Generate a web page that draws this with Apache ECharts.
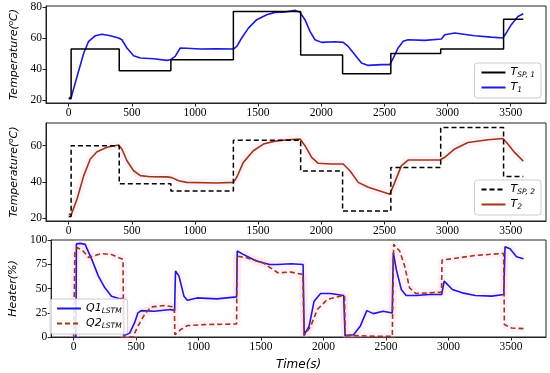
<!DOCTYPE html>
<html>
<head>
<meta charset="utf-8">
<script src="https://cdn.jsdelivr.net/npm/echarts@6/dist/echarts.min.js"></script>
<style>html,body{margin:0;padding:0;background:#fff}#c{width:550px;height:373px}</style>
</head>
<body>
<div id="c"></div>
<script>
// ---- data ----
const xTicks = [0, 500, 1000, 1500, 2000, 2500, 3000, 3500];
const tempTicks1 = [20, 40, 60, 80];
const tempTicks2 = [20, 40, 60];
const heaterTicks = [0, 25, 50, 75, 100];

const spTime = [0, 19, 400, 809, 1304, 1837, 2169, 2551, 2946, 3444, 3600];
const tsp1 = [21, 53, 39, 46, 77, 49, 37, 50, 53, 72, 72];
const tsp2 = [21, 60, 39, 35, 63, 46, 24, 48, 70, 43, 43];

const t1Time = [0,20,26,66,119,158,211,263,329,395,421,461,514,567,672,777,804,843,883,935,1041,1173,1304,1331,1370,1423,1489,1568,1634,1713,1792,1832,1871,1911,1950,2003,2108,2174,2214,2266,2319,2372,2477,2543,2570,2609,2649,2688,2820,2952,2978,3057,3215,3347,3439,3465,3505,3558,3600];
const t1 = [21.5,21.8,22.5,35.3,50.4,57.9,61.5,62.4,61.5,60,58.9,53.6,48.6,47.1,46.7,45.6,46,48.2,53.6,53.4,52.9,53.0,52.9,54.6,60,66.4,71.8,75,76.5,76.7,77.8,76.5,71.8,64.3,58.9,57.2,57.6,57.2,54.6,49.3,43.9,42.4,42.9,42.9,47.1,53.6,57.9,58.9,58.5,59.4,62.1,63.2,61.5,60.6,60,63.2,68.6,73.9,75.6];

const t2Time = [0,20,26,66,119,171,224,303,395,421,461,514,567,646,777,817,870,935,1173,1304,1331,1383,1462,1542,1634,1739,1832,1871,1924,1976,2082,2174,2227,2293,2372,2477,2543,2582,2635,2688,2820,2939,2978,3057,3162,3320,3439,3478,3531,3600];
const t2 = [22.4,22,21.8,30.6,43.5,52.7,56.7,59.1,60.4,58.2,51.7,46.2,43.5,42.9,42.8,42.4,40.7,39.8,39.4,39.8,42.6,50.8,57.2,60.9,62.5,63.3,63.7,60,53.6,50.3,49.9,49.9,46.2,39.8,37.1,34.7,33.2,39.8,49,52.1,52.1,52.1,53.6,58.2,61.8,63.3,64,60.9,56.3,51.5];

const q1Time = [0,18,22,53,92,145,198,250,303,369,398,402,448,487,514,540,646,777,808,815,843,883,909,988,1146,1304,1309,1357,1462,1568,1634,1739,1836,1845,1884,1924,1976,2055,2161,2172,2240,2293,2346,2398,2477,2549,2558,2582,2622,2661,2740,2846,2945,2965,3031,3110,3215,3347,3442,3452,3492,3544,3600];
const q1 = [0,0,96,96.5,95.5,80,62.8,50.7,42,39.5,40,1.4,4,14.5,24.8,27.2,26.6,28.3,27.2,68,62.8,42,37.9,40.3,39.3,41.4,88.6,85.2,78.3,74.8,74.8,75.5,74.8,2.4,11,36.9,44.8,44.8,42.8,1.4,2.4,11,27.2,24.1,26.6,24.8,86.9,69.7,49,42.8,42.8,43.8,43.8,57.6,49,45.5,42.8,42.1,43.8,93.1,91,82.8,80.7];

const q2Time = [0,6,10,30,66,119,224,303,395,400,474,514,567,619,725,806,810,856,909,1041,1304,1308,1383,1515,1634,1739,1835,1843,1897,1950,2029,2134,2168,2173,2266,2424,2550,2561,2609,2649,2688,2740,2846,2944,2948,3031,3215,3441,3447,3505,3600];
const q2 = [0,0,88,92,90,82,86,85,80,0,0,11,23.1,31,32.4,31,2.4,7.6,11.7,12.8,13.4,83.4,81.7,76.6,66.2,66.9,64.5,1.4,11,28.3,38.6,42.1,42.1,1.4,1.4,0.7,0.7,95.5,88.6,73.1,50.7,44.8,45.5,46.2,79.3,80.7,84.1,86.2,12.8,9.3,8.6];

// ---- helpers ----
const zip = (a, b) => a.map((x, i) => [x, b[i]]);
const SERIF = 'Liberation Serif';
const SANS = 'DejaVu Sans';
const BLUE = '#1a1ad8';
const BROWN = '#9a3a12';
const PINK = 'rgba(255,175,230,0.16)';

function xAxis(gi, named) {
  const ax = {
    type: 'value', gridIndex: gi, min: -180, max: 3780,
    splitLine: { show: false },
    axisLine: { show: true, onZero: false, lineStyle: { color: '#222', width: 1 } },
    axisTick: { show: true, length: 3.5, customValues: xTicks, lineStyle: { color: '#222' } },
    axisLabel: { customValues: xTicks, formatter: v => String(v), fontFamily: SERIF, fontSize: 11.5, color: '#000', margin: 4 }
  };
  if (named) {
    ax.name = 'Time(s)';
    ax.nameLocation = 'middle';
    ax.nameGap = 22;
    ax.nameTextStyle = { fontFamily: SANS, fontStyle: 'italic', fontSize: 12, color: '#000' };
  }
  return ax;
}
function yAxis(gi, min, max, ticks, name) {
  return {
    type: 'value', gridIndex: gi, min: min, max: max,
    splitLine: { show: false },
    axisLine: { show: true, onZero: false, lineStyle: { color: '#222', width: 1 } },
    axisTick: { show: true, length: 3.5, customValues: ticks, lineStyle: { color: '#222' } },
    axisLabel: { customValues: ticks, formatter: v => String(v), fontFamily: SERIF, fontSize: 11.5, color: '#000', margin: 4 },
    name: name, nameLocation: 'middle', nameRotate: 90, nameGap: 23,
    nameTextStyle: {
      fontFamily: SANS, fontStyle: 'italic', fontSize: 11, color: '#000',
      rich: { sup: { fontFamily: SANS, fontStyle: 'italic', fontSize: 7, color: '#000', padding: [0, 0, 5, 0] } }
    }
  };
}
function line(name, gi, t, v, color, dashed, width, z) {
  return {
    name: name, type: 'line', xAxisIndex: gi, yAxisIndex: gi,
    data: zip(t, v), symbol: 'none', z: z || 3, silent: true,
    lineStyle: { color: color, width: width || 1.6, type: dashed ? [5, 3] : 'solid' },
    itemStyle: { color: color }
  };
}
function stepLine(name, gi, t, v, dashed) {
  const s = line(name, gi, t, v, '#000', dashed, 1.5, 4);
  s.step = 'end';
  return s;
}
function band(gi, t, v) {
  return { type: 'line', xAxisIndex: gi, yAxisIndex: gi, data: zip(t, v), symbol: 'none', silent: true, z: 1,
    lineStyle: { color: PINK, width: 8, cap: 'butt', join: 'bevel' } };
}
const legendNames = {
  TSP1: ['T', 'SP, 1'], T1: ['T', '1'], TSP2: ['T', 'SP, 2'], T2: ['T', '2'],
  Q1: ['Q1', 'LSTM'], Q2: ['Q2', 'LSTM']
};
function legend(names, pos) {
  return Object.assign({
    data: names, orient: 'vertical', itemGap: 3, itemWidth: 24, itemHeight: 10,
    padding: [4, 6, 4, 6], borderColor: '#ccc', borderWidth: 1, borderRadius: 3,
    backgroundColor: 'rgba(255,255,255,0.85)',
    itemStyle: { color: 'transparent', borderWidth: 0, opacity: 0 },
    formatter: n => '{b|' + legendNames[n][0] + '}{s|' + legendNames[n][1] + '}',
    textStyle: {
      rich: {
        b: { fontFamily: SANS, fontStyle: 'italic', fontSize: 11, color: '#000' },
        s: { fontFamily: SANS, fontStyle: 'italic', fontSize: 7.5, color: '#000', padding: [5, 0, 0, 0] }
      }
    }
  }, pos);
}

const chart = echarts.init(document.getElementById('c'), null, { renderer: 'canvas' });
chart.setOption({
  animation: false,
  backgroundColor: '#fff',
  grid: [
    { left: 46, width: 500, top: 6, height: 97, show: true, borderColor: '#222', borderWidth: 1 },
    { left: 46, width: 500, top: 123, height: 98, show: true, borderColor: '#222', borderWidth: 1 },
    { left: 46, width: 500, top: 240, height: 97, show: true, borderColor: '#222', borderWidth: 1 }
  ],
  xAxis: [xAxis(0, false), xAxis(1, false), xAxis(2, true)],
  yAxis: [
    yAxis(0, 18.2, 80.6, tempTicks1, 'Temperature({sup|o}C)'),
    yAxis(1, 18.5, 72.5, tempTicks2, 'Temperature({sup|o}C)'),
    yAxis(2, 0, 100, heaterTicks, 'Heater(%)')
  ],
  legend: [
    legend(['TSP1', 'T1'], { right: 9, top: 63 }),
    legend(['TSP2', 'T2'], { right: 9, top: 180 }),
    legend(['Q1', 'Q2'], { left: 50, top: 299 })
  ],
  series: [
    band(1, t2Time, t2),
    band(2, q1Time, q1),
    band(2, q2Time, q2),
    stepLine('TSP1', 0, spTime, tsp1, false),
    line('T1', 0, t1Time, t1, BLUE, false, 1.6),
    stepLine('TSP2', 1, spTime, tsp2, true),
    line('T2', 1, t2Time, t2, BROWN, false, 1.6),
    line('Q1', 2, q1Time, q1, BLUE, false, 1.6),
    line('Q2', 2, q2Time, q2, BROWN, true, 1.6)
  ]
});
</script>
</body>
</html>
